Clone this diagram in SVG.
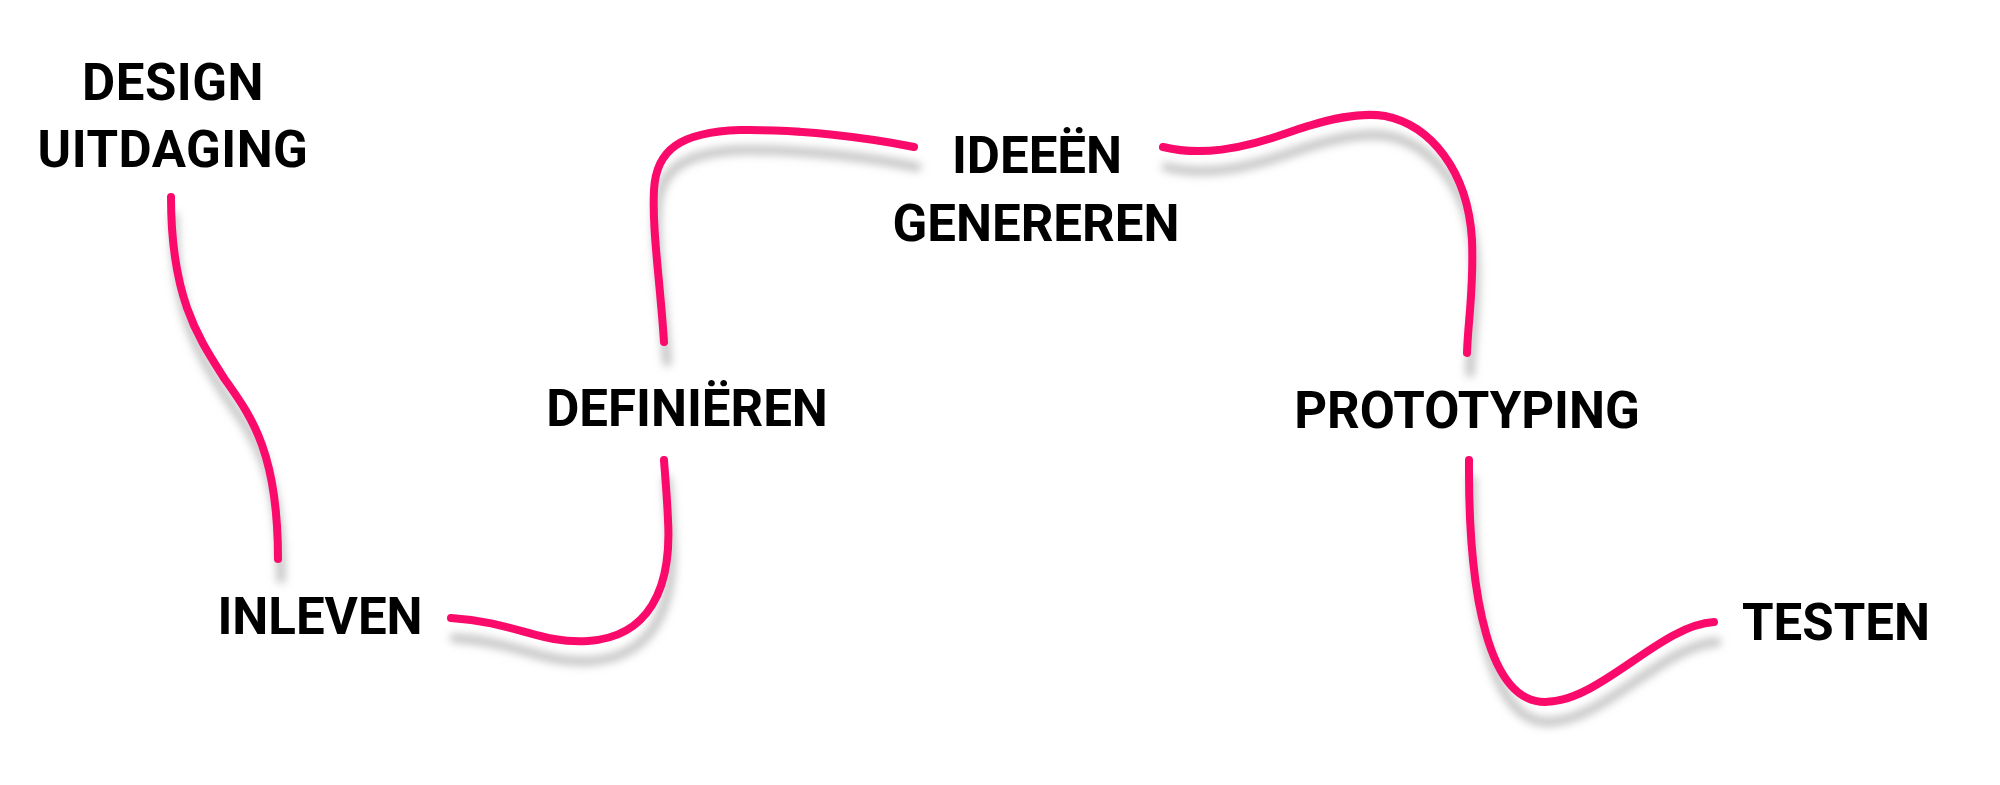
<svg xmlns="http://www.w3.org/2000/svg" width="2000" height="785" viewBox="0 0 2000 785">
<style>
.lbl{font-family:Roboto,"Liberation Sans",sans-serif;font-weight:700;font-size:51px;fill:#000;text-anchor:middle}
.ln{fill:none;stroke:#FA0A6A;stroke-width:8;stroke-linecap:round}
.sh{fill:none;stroke:#b0b0b0;stroke-width:9;stroke-linecap:round;opacity:0.75}
</style>
<defs>
<filter id="blur" x="-20%" y="-20%" width="140%" height="140%"><feGaussianBlur stdDeviation="4"/></filter>
</defs>
<rect width="2000" height="785" fill="#fff"/>
<g id="connectors">
<g filter="url(#blur)" transform="translate(3,20)">
<path class="sh" d="M171,197 C171,300 200,340 224,378 C250,415 278,450 278,559"/>
<path class="sh" d="M451,618 C515,622 540,644 588,641 C648,637 672,590 668,520 C667,495 665,475 664,460"/>
<path class="sh" d="M664,342 C660,280 652,230 654,190 C656,150 680,132 740,130 C800,129 870,138 914,147"/>
<path class="sh" d="M1163,147 C1200,156 1240,150 1290,132 C1330,118 1360,112 1385,116 C1430,125 1468,170 1472,240 C1474,290 1468,320 1467,353"/>
<path class="sh" d="M1469,460 C1468,600 1490,702 1545,702 C1600,702 1660,625 1714,622"/>
</g>
<path id="c1" class="ln" d="M171,197 C171,300 200,340 224,378 C250,415 278,450 278,559"/>
<path id="c2" class="ln" d="M451,618 C515,622 540,644 588,641 C648,637 672,590 668,520 C667,495 665,475 664,460"/>
<path id="c3" class="ln" d="M664,342 C660,280 652,230 654,190 C656,150 680,132 740,130 C800,129 870,138 914,147"/>
<path id="c4" class="ln" d="M1163,147 C1200,156 1240,150 1290,132 C1330,118 1360,112 1385,116 C1430,125 1468,170 1472,240 C1474,290 1468,320 1467,353"/>
<path id="c5" class="ln" d="M1469,460 C1468,600 1490,702 1545,702 C1600,702 1660,625 1714,622"/>
</g>
<g id="design-uitdaging">
<text class="lbl" x="173" y="100" letter-spacing="0.5">DESIGN</text>
<text class="lbl" x="173" y="167" letter-spacing="0.5">UITDAGING</text>
</g>
<g id="inleven"><text class="lbl" x="320" y="634">INLEVEN</text></g>
<g id="definieren"><text class="lbl" x="687" y="426">DEFINIËREN</text></g>
<g id="ideeen-genereren">
<text class="lbl" x="1037" y="173">IDEEËN</text>
<text class="lbl" x="1036" y="241">GENEREREN</text>
</g>
<g id="prototyping"><text class="lbl" x="1467" y="428">PROTOTYPING</text></g>
<g id="testen"><text class="lbl" x="1836" y="640">TESTEN</text></g>
</svg>
